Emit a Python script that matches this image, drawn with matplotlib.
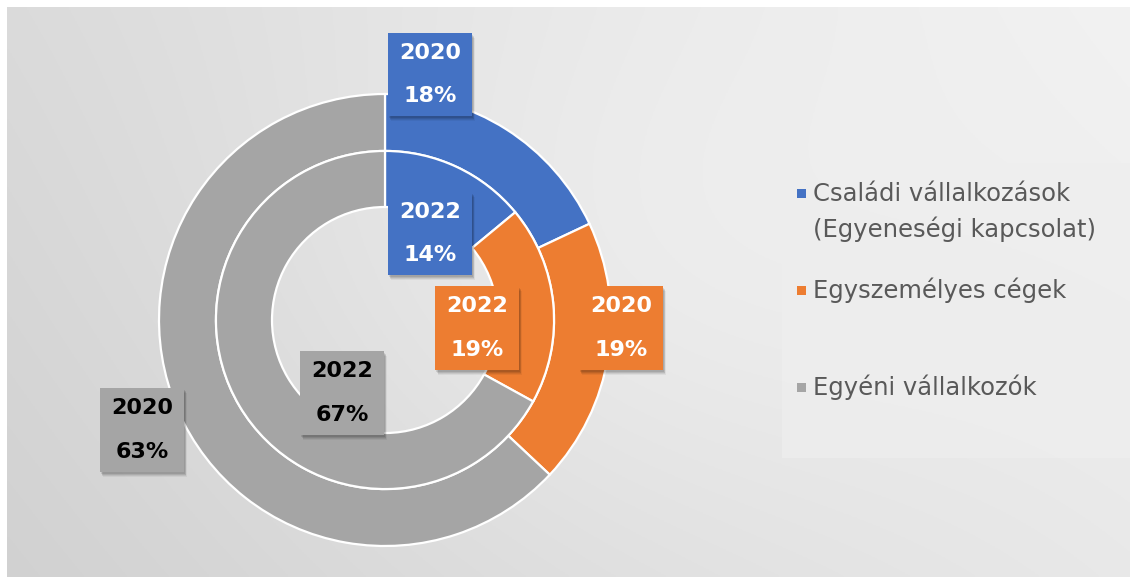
import numpy as np
import matplotlib
matplotlib.use("Agg")
import matplotlib.pyplot as plt
from matplotlib.patches import Rectangle

# ---- data ----
categories = ["Családi vállalkozások\n(Egyeneségi kapcsolat)", "Egyszemélyes cégek", "Egyéni vállalkozók"]
values_2020 = [18, 19, 63]
values_2022 = [14, 19, 67]
years = ["2020", "2022"]
colors = ["#4472C4", "#ED7D31", "#A5A5A5"]
label_text_colors = ["white", "white", "black"]

W, H = 1130, 577
fig = plt.figure(figsize=(W / 100, H / 100), dpi=100)
fig.patch.set_facecolor("white")

# ---- background gradient ----
bg = fig.add_axes([7 / W, 0, (W - 7) / W, (H - 7) / H])
bg.set_axis_off()
ny, nx = 200, 400
yy, xx = np.mgrid[0:1:ny * 1j, 0:1:nx * 1j]  # yy=0 at top
f = 0.5 * xx + 0.2 * (1 - yy) + 0.18 * np.exp(-((xx - 0.55) ** 2 / 0.12 + (yy - 0.45) ** 2 / 0.25))
f = np.clip(f, 0, 1)
v = np.clip(0.82 + 0.18 * f, 0, 1)
img = np.dstack([v, v, v])
bg.imshow(img, aspect="auto", extent=[0, 1, 0, 1], origin="upper")
bg.set_xlim(0, 1)
bg.set_ylim(0, 1)

# ---- donut ----
cx, cy, R = 385, 320, 226
ax = fig.add_axes([(cx - R) / W, (H - cy - R) / H, 2 * R / W, 2 * R / H])
ax.set_axis_off()
outer_w = 0.252
inner_r = 1 - outer_w
inner_w = 0.248
ax.pie(values_2020, radius=1.0, colors=colors, startangle=90, counterclock=False,
       wedgeprops=dict(width=outer_w, edgecolor="white", linewidth=1.6))
ax.pie(values_2022, radius=inner_r, colors=colors, startangle=90, counterclock=False,
       wedgeprops=dict(width=inner_w, edgecolor="white", linewidth=1.6))
ax.set_xlim(-1, 1)
ax.set_ylim(-1, 1)
ax.set_aspect("equal")

# ---- overlay (pixel coords, y down) ----
ov = fig.add_axes([0, 0, 1, 1], facecolor="none")
ov.set_axis_off()
ov.set_xlim(0, W)
ov.set_ylim(H, 0)

# label layout (donut data coords of box centers), per year & category
label_pos = {
    "2020": [(0.199, 1.088), (1.044, -0.035), (-1.075, -0.487)],
    "2022": [(0.199, 0.381), (0.407, -0.035), (-0.19, -0.323)],
}
vals = {"2020": values_2020, "2022": values_2022}
labels = []
for yr in years:
    for i, val in enumerate(vals[yr]):
        x, y = label_pos[yr][i]
        t = ov.text(x, y, f"{yr}\n{val}%", transform=ax.transData, ha="center", va="center",
                    fontsize=16, fontweight="bold", family="DejaVu Sans", linespacing=2.45,
                    color=label_text_colors[i], zorder=5)
        labels.append((t, colors[i]))

fig.canvas.draw()
renderer = fig.canvas.get_renderer()
pad_x, pad_y = 11, 10
for t, col in labels:
    bb = t.get_window_extent(renderer)
    x0, x1 = bb.x0 - pad_x, bb.x1 + pad_x
    top, bot = H - bb.y1 - pad_y, H - bb.y0 + pad_y
    for d, a in [(5, 0.05), (4, 0.07), (3, 0.09), (2, 0.1)]:
        ov.add_patch(Rectangle((x0 + d * 0.6, top + d), x1 - x0, bot - top,
                               facecolor="black", edgecolor="none", alpha=a, zorder=3))
    ov.add_patch(Rectangle((x0, top), x1 - x0, bot - top, facecolor=col, edgecolor="none", zorder=4))

# ---- legend ----
ov.add_patch(Rectangle((782, 163), W - 782, 458 - 163, facecolor="#eeeeee", edgecolor="none", alpha=0.8, zorder=1))
leg_y = [212, 290, 387]
for i, cat in enumerate(categories):
    nlines = cat.count("\n") + 1
    first_line_y = leg_y[i] - (nlines - 1) * 19
    ov.add_patch(Rectangle((797, first_line_y - 4.5), 9, 9, facecolor=colors[i], edgecolor="none", zorder=2))
    ov.text(813, leg_y[i], cat, ha="left", va="center", fontsize=17.5, family="DejaVu Sans",
            color="#595959", linespacing=1.47, zorder=2)

fig.savefig("out.png", dpi=100)
